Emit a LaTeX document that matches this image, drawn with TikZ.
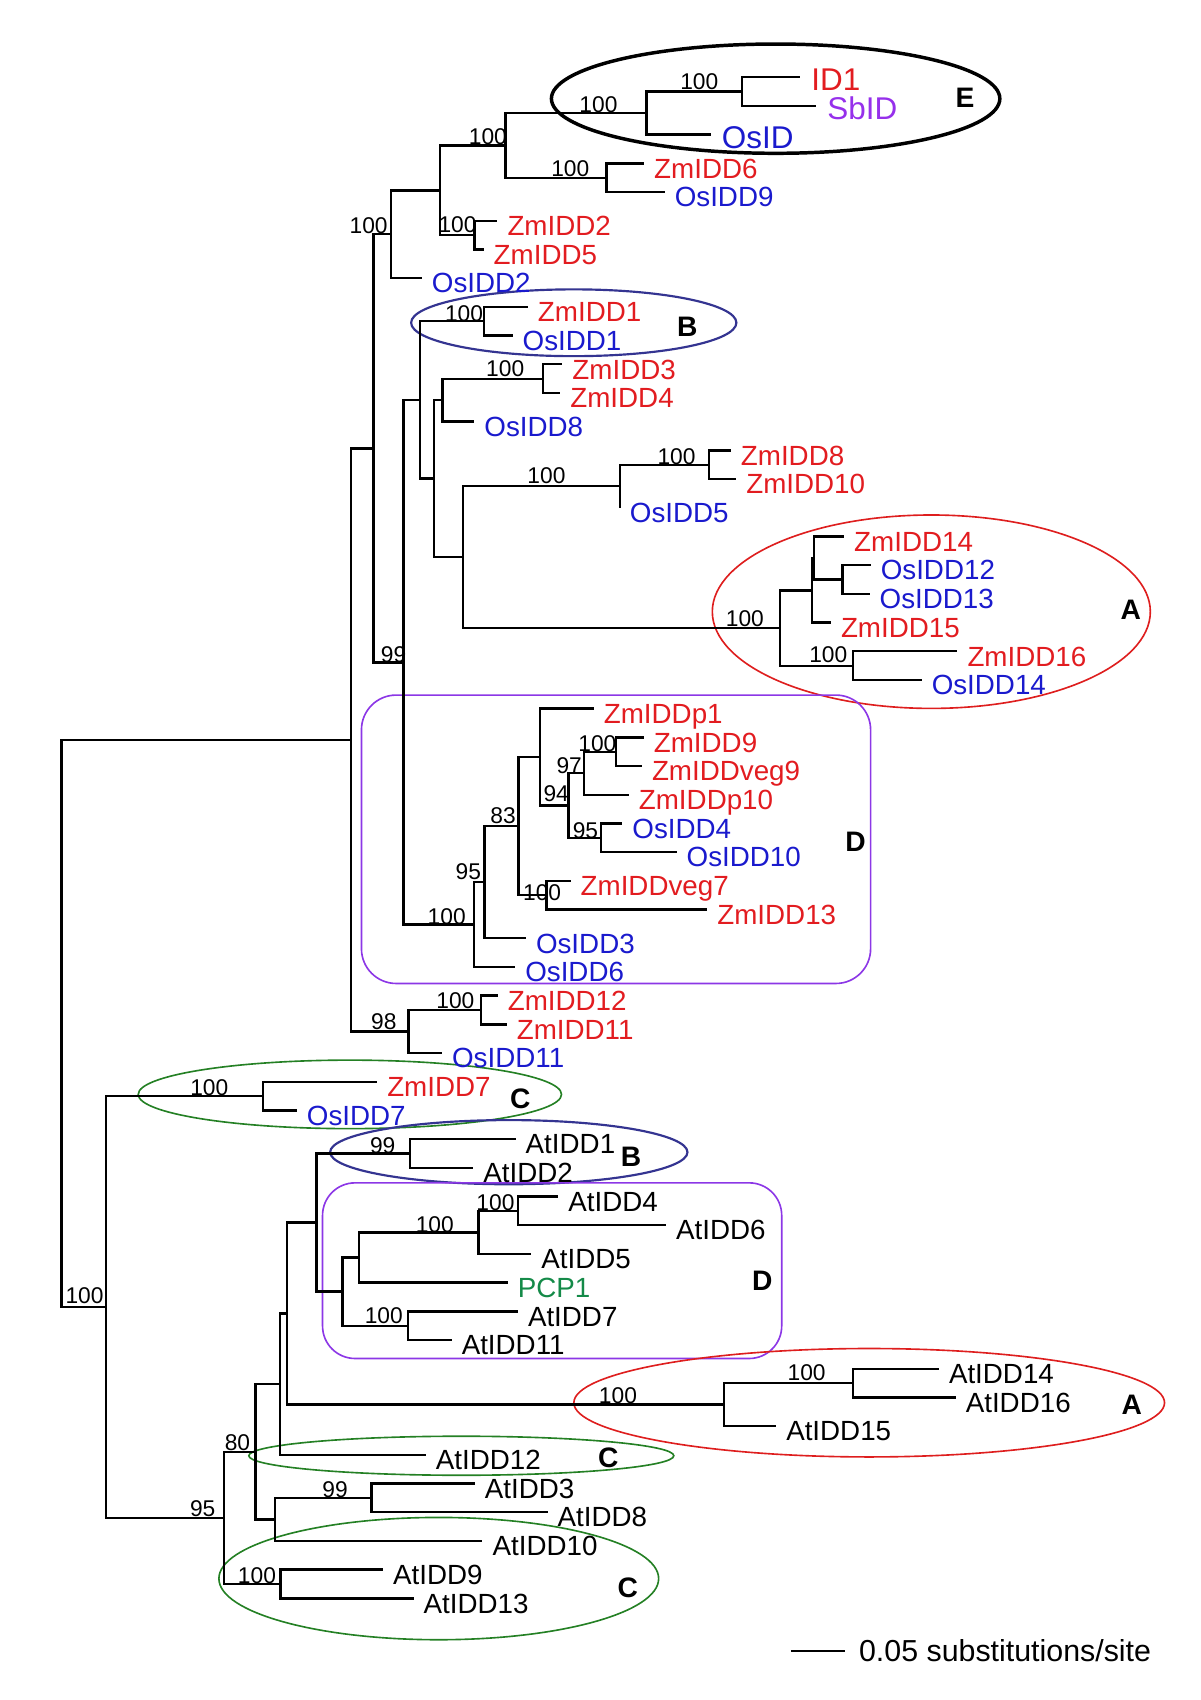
\documentclass[tikz,border=0pt]{standalone}
\usepackage{fontspec}
\setmainfont{Liberation Sans}
\usepackage{tikz}
\usetikzlibrary{positioning}
\usepackage{xcolor}
\definecolor{zmred}{RGB}{226,28,32}
\definecolor{osblue}{RGB}{26,26,205}
\definecolor{sbpurple}{RGB}{150,48,235}
\definecolor{pcpgreen}{RGB}{20,138,72}
\definecolor{cladeA}{RGB}{222,30,30}
\definecolor{cladeB}{RGB}{52,52,145}
\definecolor{cladeC}{RGB}{36,128,36}
\definecolor{cladeD}{RGB}{140,55,230}

\begin{document}
\begin{tikzpicture}[x=0.5pt, y=-0.5pt]
	\tikzstyle{branch} = [draw=black, line width=1.1pt]
	\tikzstyle{elbow} = [to path={|- (\tikztotarget)}]
	\tikzstyle{taxon} = [anchor=west, inner xsep=4.5pt, inner ysep=0pt, text height=13.6pt, text depth=0pt, font=\fontsize{12.8}{15}\selectfont]
	\tikzstyle{zmtaxon} = [taxon, text=zmred]
	\tikzstyle{ostaxon} = [taxon, text=osblue]
	\tikzstyle{attaxon} = [taxon, text=black]
	\tikzstyle{bigtaxon} = [taxon, inner xsep=5pt, text height=12.4pt, font=\fontsize{14.5}{17}\selectfont]
	\tikzstyle{boot} = [inner sep=0pt, text height=7.5pt, text depth=0pt, font=\fontsize{10.5}{12}\selectfont]
	\tikzstyle{clade} = [inner sep=0pt, text height=9.3pt, text depth=0pt, font=\fontsize{13}{15}\selectfont\bfseries]
	\tikzstyle{ring} = [line width=0.75pt]
	\tikzstyle{scaletext} = [anchor=west, inner sep=0pt, text height=10pt, text depth=0pt, font=\fontsize{14}{16}\selectfont]

	\useasboundingbox (0,0) rectangle (1107,1568);

	% clade outlines
	\draw[ring, draw=black, line width=1.6pt]	(715.4,91)		ellipse [x radius=103.4pt, y radius=25.2pt];
	\draw[ring, draw=cladeB, line width=1pt]	(529.2,297.7)	ellipse [x radius=75pt, y radius=15.4pt];
	\draw[ring, draw=cladeA]					(859,564.2)		ellipse [x radius=101pt, y radius=44.6pt];
	\draw[ring, draw=cladeD, rounded corners=16pt]	(333.4,641.1) rectangle (803,907.1);
	\draw[ring, draw=cladeC]					(322.7,1009.4)	ellipse [x radius=97.6pt, y radius=15.8pt];
	\draw[ring, draw=cladeB, line width=1pt]	(469.3,1062.7)	ellipse [x radius=82.4pt, y radius=14.8pt];
	\draw[ring, draw=cladeD, rounded corners=15pt]	(297.5,1091) rectangle (721,1253);
	\draw[ring, draw=cladeA]					(801.7,1293.8)	ellipse [x radius=136.2pt, y radius=25pt];
	\draw[ring, draw=cladeC]					(425.5,1342.7)	ellipse [x radius=98pt, y radius=9pt];
	\draw[ring, draw=cladeC]					(404.7,1456)	ellipse [x radius=101.4pt, y radius=28.2pt];

	% inner nodes of the tree
	\coordinate (root)		at (56.9,944.1);
	\coordinate (n323)		at (323.5,682.5);
	\coordinate (n345)		at (344.5,413.5);
	\coordinate (n360)		at (360.5,216.1);
	\coordinate (n406)		at (405.8,175.6);
	\coordinate (n466)		at (466.4,134.2);
	\coordinate (nE)		at (596.2,104.4);
	\coordinate (nID)		at (684.3,84.5);
	\coordinate (nZm6)		at (559.4,164.0);
	\coordinate (nZm25)		at (437.6,216.9);
	\coordinate (n372)		at (372.3,610.9);
	\coordinate (n387)		at (387.3,368.9);
	\coordinate (nB)		at (446.2,296.3);
	\coordinate (n400)		at (400.4,441.5);
	\coordinate (n408)		at (408.0,369.1);
	\coordinate (nZm34)		at (500.9,349.3);
	\coordinate (n426)		at (427.0,513.9);
	\coordinate (n571)		at (571.6,448.5);
	\coordinate (nZm810)	at (653.8,428.7);
	\coordinate (nA)		at (719.7,579.2);
	\coordinate (nA2)		at (748.8,544.5);
	\coordinate (nA3)		at (750.8,514.7);
	\coordinate (nOs1213)	at (777.0,534.6);
	\coordinate (nA4)		at (786.5,614.0);
	\coordinate (nD)		at (437.2,852.8);
	\coordinate (nD2)		at (447.0,813.7);
	\coordinate (nD3)		at (478.4,762.0);
	\coordinate (nD4)		at (498.2,698.3);
	\coordinate (nD5)		at (524.5,743.0);
	\coordinate (nD6)		at (538.7,713.2);
	\coordinate (nD7)		at (568.3,693.4);
	\coordinate (nD8)		at (554.2,772.8);
	\coordinate (nD9)		at (504.1,825.7);
	\coordinate (n377)		at (376.7,951.4);
	\coordinate (n444)		at (443.8,931.6);
	\coordinate (n98)		at (97.9,1205.6);
	\coordinate (nC1)		at (242.8,1011.0);
	\coordinate (n206)		at (206.6,1400.1);
	\coordinate (n235)		at (235.5,1339.2);
	\coordinate (n258)		at (258.5,1276.8);
	\coordinate (n264)		at (264.5,1211.6);
	\coordinate (n292)		at (291.8,1127.7);
	\coordinate (nBat)		at (377.9,1064.0);
	\coordinate (n316)		at (315.8,1191.3);
	\coordinate (n331)		at (331.1,1159.9);
	\coordinate (n441)		at (441.4,1136.8);
	\coordinate (n477)		at (477.6,1116.9);
	\coordinate (n376)		at (376.1,1222.8);
	\coordinate (n667)		at (667.6,1295.6);
	\coordinate (n786)		at (786.7,1275.7);
	\coordinate (n253)		at (253.6,1401.5);
	\coordinate (n342)		at (342.6,1381.6);
	\coordinate (nC3)		at (258.6,1461.0);

	% leaves
	\node[bigtaxon, text=zmred]		at (738.0,71.3)		(id1)		{ID1};
	\node[bigtaxon, text=sbpurple]	at (752.8,97.8)		(sbid)		{SbID};
	\node[bigtaxon, text=osblue]	at (655.5,124.2)	(osid)		{OsID};
	\node[zmtaxon]	at (594.0,150.7)	(zmidd6)	{ZmIDD6};
	\node[ostaxon]	at (613.0,177.2)	(osidd9)	{OsIDD9};
	\node[zmtaxon]	at (458.7,203.7)	(zmidd2)	{ZmIDD2};
	\node[zmtaxon]	at (446.0,230.1)	(zmidd5)	{ZmIDD5};
	\node[ostaxon]	at (389.0,256.6)	(osidd2)	{OsIDD2};
	\node[zmtaxon]	at (486.8,283.1)	(zmidd1)	{ZmIDD1};
	\node[ostaxon]	at (472.7,309.5)	(osidd1)	{OsIDD1};
	\node[zmtaxon]	at (518.6,336.0)	(zmidd3)	{ZmIDD3};
	\node[zmtaxon]	at (516.7,362.5)	(zmidd4)	{ZmIDD4};
	\node[ostaxon]	at (437.4,388.9)	(osidd8)	{OsIDD8};
	\node[zmtaxon]	at (674.0,415.4)	(zmidd8)	{ZmIDD8};
	\node[zmtaxon]	at (679.0,441.9)	(zmidd10)	{ZmIDD10};
	\node[ostaxon]	at (571.6,468.4)	(osidd5)	{OsIDD5};
	\node[zmtaxon]	at (778.5,494.8)	(zmidd14)	{ZmIDD14};
	\node[ostaxon]	at (803.0,521.3)	(osidd12)	{OsIDD12};
	\node[ostaxon]	at (802.0,547.8)	(osidd13)	{OsIDD13};
	\node[zmtaxon]	at (766.3,574.2)	(zmidd15)	{ZmIDD15};
	\node[zmtaxon]	at (883.0,600.7)	(zmidd16)	{ZmIDD16};
	\node[ostaxon]	at (850.0,627.2)	(osidd14)	{OsIDD14};
	\node[zmtaxon]	at (547.6,653.6)	(zmiddp1)	{ZmIDDp1};
	\node[zmtaxon]	at (593.7,680.1)	(zmidd9)	{ZmIDD9};
	\node[zmtaxon]	at (592.0,706.6)	(zmiddveg9)	{ZmIDDveg9};
	\node[zmtaxon]	at (579.9,733.1)	(zmiddp10)	{ZmIDDp10};
	\node[ostaxon]	at (573.9,759.5)	(osidd4)	{OsIDD4};
	\node[ostaxon]	at (624.0,786.0)	(osidd10)	{OsIDD10};
	\node[zmtaxon]	at (526.2,812.5)	(zmiddveg7)	{ZmIDDveg7};
	\node[zmtaxon]	at (652.3,838.9)	(zmidd13)	{ZmIDD13};
	\node[ostaxon]	at (485.0,865.4)	(osidd3)	{OsIDD3};
	\node[ostaxon]	at (475.1,891.9)	(osidd6)	{OsIDD6};
	\node[zmtaxon]	at (459.0,918.3)	(zmidd12)	{ZmIDD12};
	\node[zmtaxon]	at (467.3,944.8)	(zmidd11)	{ZmIDD11};
	\node[ostaxon]	at (407.6,971.3)	(osidd11)	{OsIDD11};
	\node[zmtaxon]	at (347.8,997.8)	(zmidd7)	{ZmIDD7};
	\node[ostaxon]	at (273.7,1024.2)	(osidd7)	{OsIDD7};
	\node[attaxon]	at (475.5,1050.7)	(atidd1)	{AtIDD1};
	\node[attaxon]	at (436.4,1077.2)	(atidd2)	{AtIDD2};
	\node[attaxon]	at (514.9,1103.6)	(atidd4)	{AtIDD4};
	\node[attaxon]	at (614.3,1130.1)	(atidd6)	{AtIDD6};
	\node[attaxon]	at (490.0,1156.6)	(atidd5)	{AtIDD5};
	\node[taxon, text=pcpgreen]	at (468.3,1183.0)	(pcp1)	{PCP1};
	\node[attaxon]	at (477.6,1209.5)	(atidd7)	{AtIDD7};
	\node[attaxon]	at (416.5,1236.0)	(atidd11)	{AtIDD11};
	\node[attaxon]	at (865.9,1262.5)	(atidd14)	{AtIDD14};
	\node[attaxon]	at (881.4,1288.9)	(atidd16)	{AtIDD16};
	\node[attaxon]	at (715.8,1315.4)	(atidd15)	{AtIDD15};
	\node[attaxon]	at (392.6,1341.9)	(atidd12)	{AtIDD12};
	\node[attaxon]	at (437.9,1368.3)	(atidd3)	{AtIDD3};
	\node[attaxon]	at (505.0,1394.8)	(atidd8)	{AtIDD8};
	\node[attaxon]	at (445.0,1421.3)	(atidd10)	{AtIDD10};
	\node[attaxon]	at (353.2,1447.7)	(atidd9)	{AtIDD9};
	\node[attaxon]	at (381.4,1474.2)	(atidd13)	{AtIDD13};

	% branches
	\path[branch]
	(root)		edge[elbow]	(n323)
	(root)		edge[elbow]	(n98)
	(n323)		edge[elbow]	(n345)
	(n323)		edge[elbow]	(n377)
	(n345)		edge[elbow]	(n360)
	(n345)		edge[elbow]	(n372)
	(n360)		edge[elbow]	(n406)
	(n360)		edge[elbow]	(osidd2.west)
	(n406)		edge[elbow]	(n466)
	(n406)		edge[elbow]	(nZm25)
	(n466)		edge[elbow]	(nE)
	(n466)		edge[elbow]	(nZm6)
	(nE)		edge[elbow]	(nID)
	(nE)		edge[elbow]	(osid.west)
	(nID)		edge[elbow]	(id1.west)
	(nID)		edge[elbow]	(sbid.west)
	(nZm6)		edge[elbow]	(zmidd6.west)
	(nZm6)		edge[elbow]	(osidd9.west)
	(nZm25)		edge[elbow]	(zmidd2.west)
	(nZm25)		edge[elbow]	(zmidd5.west)
	(n372)		edge[elbow]	(n387)
	(n372)		edge[elbow]	(nD)
	(n387)		edge[elbow]	(nB)
	(n387)		edge[elbow]	(n400)
	(nB)		edge[elbow]	(zmidd1.west)
	(nB)		edge[elbow]	(osidd1.west)
	(n400)		edge[elbow]	(n408)
	(n400)		edge[elbow]	(n426)
	(n408)		edge[elbow]	(nZm34)
	(n408)		edge[elbow]	(osidd8.west)
	(nZm34)		edge[elbow]	(zmidd3.west)
	(nZm34)		edge[elbow]	(zmidd4.west)
	(n426)		edge[elbow]	(n571)
	(n426)		edge[elbow]	(nA)
	(n571)		edge[elbow]	(nZm810)
	(n571)		edge[elbow]	(osidd5.west)
	(nZm810)	edge[elbow]	(zmidd8.west)
	(nZm810)	edge[elbow]	(zmidd10.west)
	(nA)		edge[elbow]	(nA2)
	(nA)		edge[elbow]	(nA4)
	(nA2)		edge[elbow]	(nA3)
	(nA2)		edge[elbow]	(zmidd15.west)
	(nA3)		edge[elbow]	(zmidd14.west)
	(nA3)		edge[elbow]	(nOs1213)
	(nOs1213)	edge[elbow]	(osidd12.west)
	(nOs1213)	edge[elbow]	(osidd13.west)
	(nA4)		edge[elbow]	(zmidd16.west)
	(nA4)		edge[elbow]	(osidd14.west)
	(nD)		edge[elbow]	(nD2)
	(nD)		edge[elbow]	(osidd6.west)
	(nD2)		edge[elbow]	(nD3)
	(nD2)		edge[elbow]	(osidd3.west)
	(nD3)		edge[elbow]	(nD4)
	(nD3)		edge[elbow]	(nD9)
	(nD4)		edge[elbow]	(zmiddp1.west)
	(nD4)		edge[elbow]	(nD5)
	(nD5)		edge[elbow]	(nD6)
	(nD5)		edge[elbow]	(nD8)
	(nD6)		edge[elbow]	(nD7)
	(nD6)		edge[elbow]	(zmiddp10.west)
	(nD7)		edge[elbow]	(zmidd9.west)
	(nD7)		edge[elbow]	(zmiddveg9.west)
	(nD8)		edge[elbow]	(osidd4.west)
	(nD8)		edge[elbow]	(osidd10.west)
	(nD9)		edge[elbow]	(zmiddveg7.west)
	(nD9)		edge[elbow]	(zmidd13.west)
	(n377)		edge[elbow]	(n444)
	(n377)		edge[elbow]	(osidd11.west)
	(n444)		edge[elbow]	(zmidd12.west)
	(n444)		edge[elbow]	(zmidd11.west)
	(n98)		edge[elbow]	(nC1)
	(n98)		edge[elbow]	(n206)
	(nC1)		edge[elbow]	(zmidd7.west)
	(nC1)		edge[elbow]	(osidd7.west)
	(n206)		edge[elbow]	(n235)
	(n206)		edge[elbow]	(nC3)
	(n235)		edge[elbow]	(n258)
	(n235)		edge[elbow]	(n253)
	(n258)		edge[elbow]	(n264)
	(n258)		edge[elbow]	(atidd12.west)
	(n264)		edge[elbow]	(n292)
	(n264)		edge[elbow]	(n667)
	(n292)		edge[elbow]	(nBat)
	(n292)		edge[elbow]	(n316)
	(nBat)		edge[elbow]	(atidd1.west)
	(nBat)		edge[elbow]	(atidd2.west)
	(n316)		edge[elbow]	(n331)
	(n316)		edge[elbow]	(n376)
	(n331)		edge[elbow]	(n441)
	(n331)		edge[elbow]	(pcp1.west)
	(n441)		edge[elbow]	(n477)
	(n441)		edge[elbow]	(atidd5.west)
	(n477)		edge[elbow]	(atidd4.west)
	(n477)		edge[elbow]	(atidd6.west)
	(n376)		edge[elbow]	(atidd7.west)
	(n376)		edge[elbow]	(atidd11.west)
	(n667)		edge[elbow]	(n786)
	(n667)		edge[elbow]	(atidd15.west)
	(n786)		edge[elbow]	(atidd14.west)
	(n786)		edge[elbow]	(atidd16.west)
	(n253)		edge[elbow]	(n342)
	(n253)		edge[elbow]	(atidd10.west)
	(n342)		edge[elbow]	(atidd3.west)
	(n342)		edge[elbow]	(atidd8.west)
	(nC3)		edge[elbow]	(atidd9.west)
	(nC3)		edge[elbow]	(atidd13.west);

	% bootstrap values
	\node[boot]	at (645,75)		(bs1)	{100};
	\node[boot]	at (552,96)		(bs2)	{100};
	\node[boot]	at (450,126)	(bs3)	{100};
	\node[boot]	at (526,155)	(bs4)	{100};
	\node[boot]	at (422,207)	(bs5)	{100};
	\node[boot]	at (340,208)	(bs6)	{100};
	\node[boot]	at (428,289)	(bs7)	{100};
	\node[boot]	at (466,340)	(bs8)	{100};
	\node[boot]	at (504,438)	(bs9)	{100};
	\node[boot]	at (624,421)	(bs10)	{100};
	\node[boot]	at (687,570)	(bs11)	{100};
	\node[boot]	at (764,604)	(bs12)	{100};
	\node[boot]	at (363,604)	(bs13)	{99};
	\node[boot]	at (412,845)	(bs14)	{100};
	\node[boot]	at (432,804)	(bs15)	{95};
	\node[boot]	at (464,752)	(bs16)	{83};
	\node[boot]	at (500,823)	(bs17)	{100};
	\node[boot]	at (513,732)	(bs18)	{94};
	\node[boot]	at (525,706)	(bs19)	{97};
	\node[boot]	at (551,686)	(bs20)	{100};
	\node[boot]	at (540,766)	(bs21)	{95};
	\node[boot]	at (354,942)	(bs22)	{98};
	\node[boot]	at (420,923)	(bs23)	{100};
	\node[boot]	at (193,1003)	(bs24)	{100};
	\node[boot]	at (353,1056)	(bs25)	{99};
	\node[boot]	at (401,1129)	(bs26)	{100};
	\node[boot]	at (457,1109)	(bs27)	{100};
	\node[boot]	at (354,1213)	(bs28)	{100};
	\node[boot]	at (570,1287)	(bs29)	{100};
	\node[boot]	at (744,1266)	(bs30)	{100};
	\node[boot]	at (219,1330)	(bs31)	{80};
	\node[boot]	at (309,1374)	(bs32)	{99};
	\node[boot]	at (187,1391)	(bs33)	{95};
	\node[boot]	at (237,1453)	(bs34)	{100};
	\node[boot]	at (78,1195)	(bs35)	{100};

	% clade letters
	\node[clade]	at (890,90)		(cE)	{E};
	\node[clade]	at (634,301)	(cB1)	{B};
	\node[clade]	at (1043,562)	(cA1)	{A};
	\node[clade]	at (789,776)	(cD1)	{D};
	\node[clade]	at (480,1013)	(cC1)	{C};
	\node[clade]	at (582,1067)	(cB2)	{B};
	\node[clade]	at (703,1181)	(cD2)	{D};
	\node[clade]	at (1044,1295)	(cA2)	{A};
	\node[clade]	at (561,1344)	(cC2)	{C};
	\node[clade]	at (579,1464)	(cC3)	{C};

	% scale bar
	\coordinate (sbL) at (729.4,1522.8);
	\coordinate (sbR) at (779.5,1522.8);
	\node[scaletext]	at (792,1522.8)	(sbtext)	{0.05 substitutions/site};
	\draw[branch] (sbL) -- (sbR);
\end{tikzpicture}
\end{document}
